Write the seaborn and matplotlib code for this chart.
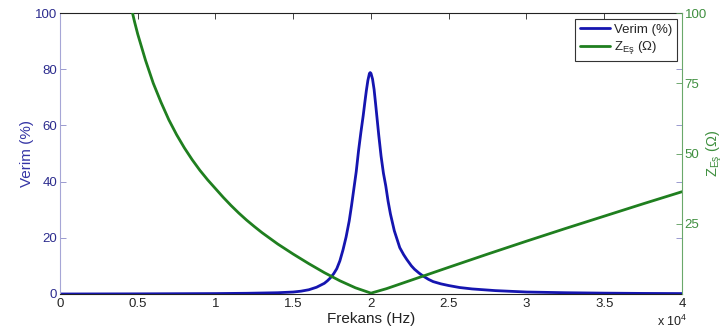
import numpy as np
import pandas as pd
import matplotlib
matplotlib.use("Agg")
import matplotlib.pyplot as plt
import seaborn as sns

# ---- data (frequency in units of 1e4 Hz) ----
freq_eff = [0, 0.5, 1.0, 1.2, 1.4, 1.5, 1.55, 1.6, 1.65, 1.7, 1.72, 1.74, 1.76,
            1.78, 1.80, 1.82, 1.84, 1.86, 1.875, 1.89, 1.905, 1.92, 1.935, 1.95,
            1.96, 1.97, 1.98, 1.99, 1.995, 2.0, 2.01, 2.02, 2.03, 2.04, 2.05,
            2.065, 2.08, 2.095, 2.11, 2.125, 2.15, 2.185, 2.21, 2.23, 2.26, 2.28,
            2.31, 2.335, 2.37, 2.4, 2.45, 2.5, 2.57, 2.65, 2.8, 3.0, 3.25, 3.5,
            3.75, 4.0]
verim = [0, 0.05, 0.15, 0.25, 0.45, 0.7, 1.0, 1.5, 2.4, 3.8, 4.7, 5.8, 7.2,
         9.0, 11.8, 15.7, 20.3, 26.0, 31.5, 37.5, 43.5, 51.0, 57.5, 63.5,
         68.0, 72.3, 76.0, 78.5, 78.8, 78.5, 76.5, 72.8, 67.5, 62.0, 56.5,
         49.0, 43.0, 38.5, 33.0, 28.5, 22.5, 16.5, 14.0, 12.3, 10.0, 8.8,
         7.4, 6.4, 5.2, 4.4, 3.6, 3.0, 2.3, 1.8, 1.2, 0.7, 0.45, 0.3,
         0.2, 0.15]

freq_z = [0.46, 0.48, 0.5, 0.55, 0.6, 0.65, 0.7, 0.75, 0.8, 0.85, 0.9, 0.95,
          1.0, 1.05, 1.1, 1.15, 1.2, 1.25, 1.3, 1.35, 1.4, 1.5, 1.6, 1.7, 1.8,
          1.9, 2.0, 2.1, 2.2, 2.3, 2.4, 2.5, 2.75, 3.0, 3.25, 3.5, 3.75, 4.0]
z_es = [101.5, 96.8, 92.5, 83.2, 75.0, 68.2, 62.0, 56.7, 52.0, 47.8, 44.0,
        40.6, 37.5, 34.4, 31.5, 28.8, 26.3, 24.0, 21.8, 19.8, 17.8, 14.2,
        10.8, 7.6, 4.7, 2.2, 0.3, 1.9, 3.8, 5.7, 7.6, 9.5, 14.2, 18.8, 23.3,
        27.7, 32.1, 36.4]

x_ticks = [0, 0.5, 1, 1.5, 2, 2.5, 3, 3.5, 4]
x_ticklabels = ["0", "0.5", "1", "1.5", "2", "2.5", "3", "3.5", "4"]
left_ticks = [0, 20, 40, 60, 80, 100]
right_ticks = [25, 50, 75, 100]

sns.set_theme(style="white")
plt.rcParams["font.family"] = ["Liberation Sans", "DejaVu Sans"]
plt.rcParams["mathtext.fontset"] = "custom"
plt.rcParams["mathtext.rm"] = "Liberation Sans"
plt.rcParams["mathtext.it"] = "Liberation Sans"

BLUE = "#1515b0"
GREEN = "#1f7f1f"
BLUE_TXT = "#2c2c8e"
GREEN_TXT = "#3f8f3f"

fig = plt.figure(figsize=(7.26, 3.34), dpi=100)
ax = fig.add_axes([0.0826, 0.1198, 0.9394 - 0.0826, 0.961 - 0.1198])
ax2 = ax.twinx()

df1 = pd.DataFrame({"f": freq_eff, "v": verim})
df2 = pd.DataFrame({"f": freq_z, "z": z_es})
sns.lineplot(data=df1, x="f", y="v", ax=ax, color=BLUE, lw=2.0, label="Verim (%)", legend=False)
sns.lineplot(data=df2, x="f", y="z", ax=ax2, color=GREEN, lw=2.0,
             label=r"Z$_{\mathrm{Eş}}$ ($\Omega$)", legend=False)

ax.set_xlim(0, 4)
ax.set_ylim(0, 100)
ax2.set_ylim(0, 100)
ax.set_xticks(x_ticks)
ax.set_xticklabels(x_ticklabels)
ax.set_yticks(left_ticks)
ax2.set_yticks(right_ticks)

ax.tick_params(axis="x", direction="in", length=4, width=0.6, top=True,
               labelsize=9.5, colors="#222222", pad=3)
ax.tick_params(axis="y", direction="in", length=4, width=0.6, right=True,
               labelright=False, labelsize=9.5, colors="#8a8ac8", labelcolor=BLUE_TXT, pad=2)
ax2.tick_params(axis="y", direction="in", length=4, width=0.6,
                labelsize=9.5, colors="#5a9a5a", labelcolor=GREEN_TXT, pad=2)

for a in (ax, ax2):
    for s in a.spines.values():
        s.set_linewidth(0.8)
ax.spines["top"].set_color("#222222")
ax.spines["bottom"].set_color("#222222")
ax.spines["left"].set_color("#a6a6d6")
ax2.spines["left"].set_visible(False)
ax2.spines["top"].set_visible(False)
ax2.spines["bottom"].set_visible(False)
ax2.spines["right"].set_color("#6aa86a")
ax.spines["right"].set_visible(False)

ax.set_xlabel("Frekans (Hz)", fontsize=11, color="#222222", labelpad=1)
ax.set_ylabel("Verim (%)", fontsize=11, color="#3535a5", labelpad=1)
ax2.set_ylabel(r"Z$_{\mathrm{Eş}}$ ($\Omega$)", fontsize=10.5, color=GREEN_TXT, labelpad=-2)

fig.text(0.905, 0.025, r"x 10$^{4}$", fontsize=9, color="#222222")

h1, l1 = ax.get_legend_handles_labels()
h2, l2 = ax2.get_legend_handles_labels()
leg = ax2.legend(h1 + h2, l1 + l2, loc="upper right", bbox_to_anchor=(0.9985, 0.994),
                 fontsize=9.5, frameon=True, fancybox=False, framealpha=1,
                 edgecolor="#333333", handlelength=2.3, handletextpad=0.3,
                 borderpad=0.35, labelspacing=0.3, borderaxespad=0.3)
leg.get_frame().set_linewidth(0.8)

fig.savefig("out.png", dpi=100)
